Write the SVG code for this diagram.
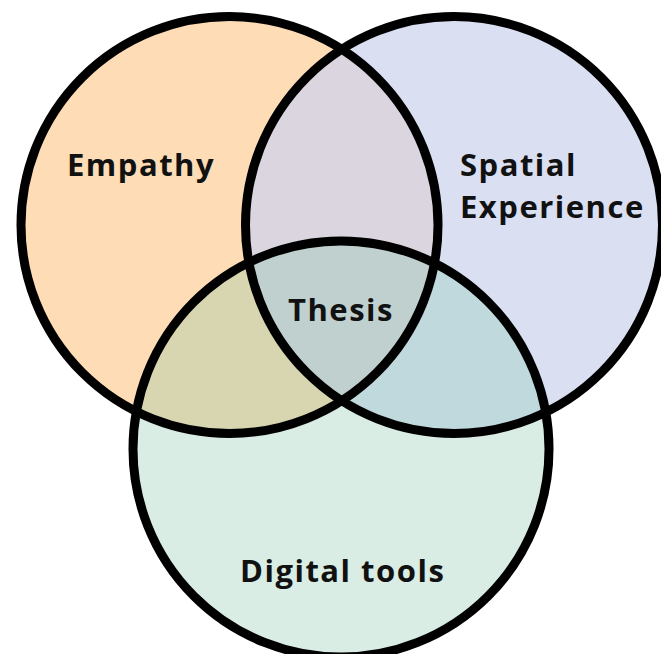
<svg xmlns="http://www.w3.org/2000/svg" width="661" height="654" viewBox="0 0 661 654">
<style>
.ring{fill:none;stroke:#000;stroke-width:9}
.lbl{font-family:"Open Sans","Liberation Sans",sans-serif;font-weight:700;font-size:31px;letter-spacing:1.5px;fill:#111}
</style>
<defs>
<clipPath id="cE"><circle cx="229.5" cy="225" r="208.5"/></clipPath>
<clipPath id="cS"><circle cx="454" cy="225" r="208.5"/></clipPath>
<clipPath id="cD"><circle cx="341" cy="449" r="208"/></clipPath>
</defs>
<rect width="661" height="654" fill="#fff"/>
<g id="fills">
<circle cx="229.5" cy="225" r="208.5" fill="#FDDCB6"/>
<circle cx="454" cy="225" r="208.5" fill="#DADFF2"/>
<circle cx="341" cy="449" r="208" fill="#D9EDE4"/>
<g clip-path="url(#cE)"><circle cx="454" cy="225" r="208.5" fill="#DAD5DE"/><circle cx="341" cy="449" r="208" fill="#D8D6B1"/></g>
<g clip-path="url(#cS)"><circle cx="341" cy="449" r="208" fill="#C0D9DC"/></g>
<g clip-path="url(#cE)"><g clip-path="url(#cS)"><circle cx="341" cy="449" r="208" fill="#BFD0CE"/></g></g>
</g>
<g id="empathy">
<circle class="ring" cx="229.5" cy="225" r="208.5"/>
<text class="lbl" x="67" y="176">Empathy</text>
</g>
<g id="spatial">
<circle class="ring" cx="454" cy="225" r="208.5"/>
<text class="lbl" x="460" y="176">Spatial</text>
<text class="lbl" x="460" y="218">Experience</text>
</g>
<g id="digital">
<circle class="ring" cx="341" cy="449" r="208"/>
<text class="lbl" x="240" y="582">Digital tools</text>
</g>
<g id="thesis">
<text class="lbl" x="288" y="321">Thesis</text>
</g>
<g id="connectors"/>
</svg>
